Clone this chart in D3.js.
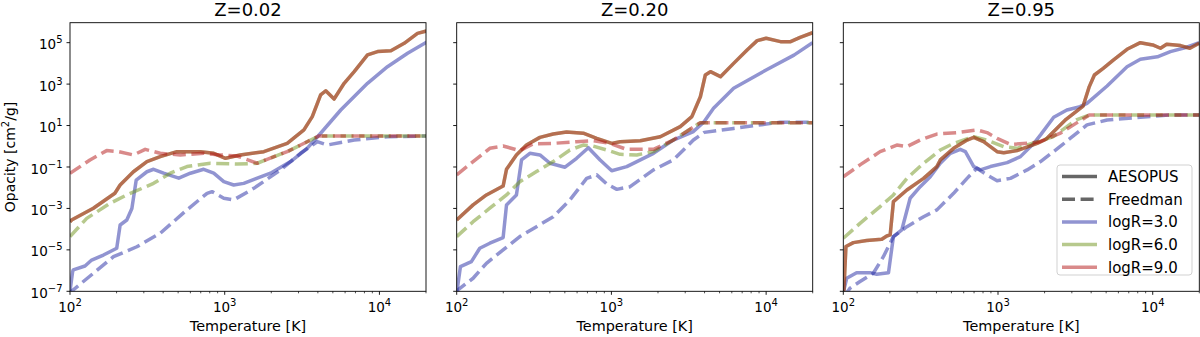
<!DOCTYPE html>
<html>
<head>
<meta charset="utf-8">
<script src="https://cdn.jsdelivr.net/npm/d3@7"></script>
<style>
  body { margin: 0; background: #fff; }
  text { font-family: "DejaVu Sans", sans-serif; fill: #000; }
</style>
</head>
<body>
<div id="chart"></div>
<script>
// values as [log10 T, log10 kappa]
var z002_aes3 = [[2.0,-7.0],[2.017,-6.05],[2.021,-5.97],[2.097,-5.78],[2.14,-5.49],[2.216,-5.25],[2.302,-4.92],[2.324,-3.80],[2.367,-3.56],[2.40,-3.0],[2.428,-1.63],[2.497,-1.23],[2.54,-1.11],[2.605,-1.30],[2.703,-1.54],[2.778,-1.30],[2.864,-1.11],[2.929,-1.30],[2.994,-1.71],[3.058,-1.87],[3.123,-1.79],[3.296,-1.30],[3.426,-0.74],[3.533,-0.10],[3.62,0.63],[3.75,1.75],[3.923,3.04],[4.052,3.84],[4.182,4.49],[4.311,5.05]];
var z002_fre3 = [[2.0,-7.2],[2.01,-7.0],[2.151,-6.13],[2.281,-5.33],[2.432,-4.85],[2.583,-4.20],[2.756,-3.07],[2.886,-2.27],[2.918,-2.19],[2.994,-2.51],[3.058,-2.59],[3.188,-2.03],[3.361,-1.14],[3.49,-0.34],[3.598,0.22],[3.663,0.06],[3.837,0.30],[4.052,0.46],[4.311,0.50]];
var z002_aesHi = [[2.0,-3.65],[2.01,-3.56],[2.151,-2.99],[2.29,-2.27],[2.324,-1.87],[2.41,-1.23],[2.497,-0.74],[2.583,-0.50],[2.691,-0.26],[2.843,-0.26],[2.929,-0.34],[3.005,-0.58],[3.10,-0.42],[3.253,-0.26],[3.404,0.14],[3.512,0.79],[3.566,1.43],[3.62,2.48],[3.653,2.68],[3.707,2.28],[3.772,3.04],[3.837,3.60],[3.923,4.41],[3.988,4.57],[4.074,4.61],[4.16,4.97],[4.246,5.45],[4.311,5.58]];
var z002_fre6 = [[2.0,-4.36],[2.108,-3.48],[2.26,-2.75],[2.367,-2.35],[2.54,-1.79],[2.648,-1.30],[2.756,-0.98],[2.907,-0.82],[3.08,-0.86],[3.21,-0.82],[3.404,-0.26],[3.533,0.22],[3.609,0.50],[4.311,0.50]];
var z002_fre9 = [[2.0,-1.31],[2.129,-0.66],[2.237,-0.21],[2.313,-0.26],[2.41,-0.42],[2.486,-0.15],[2.583,-0.34],[2.713,-0.42],[2.864,-0.34],[2.972,-0.42],[3.08,-0.47],[3.21,-0.82],[3.404,-0.26],[3.533,0.22],[3.609,0.50],[4.311,0.50]];

var z020_aes3 = [[2.0,-7.1],[2.024,-5.81],[2.095,-5.57],[2.149,-4.92],[2.214,-4.68],[2.30,-4.41],[2.322,-2.83],[2.386,-2.35],[2.419,-0.66],[2.473,-0.34],[2.538,-0.42],[2.603,-0.82],[2.70,-1.01],[2.775,-0.58],[2.851,-0.07],[2.927,-0.66],[3.002,-1.18],[3.099,-0.98],[3.272,-0.34],[3.40,0.30],[3.53,0.71],[3.60,1.19],[3.66,1.83],[3.79,2.80],[4.0,3.68],[4.18,4.40],[4.30,5.0]];
var z020_fre3 = [[2.0,-7.1],[2.008,-6.93],[2.106,-6.37],[2.192,-5.65],[2.30,-5.0],[2.408,-4.36],[2.516,-3.88],[2.624,-3.40],[2.732,-2.59],[2.84,-1.55],[2.905,-1.38],[2.97,-1.82],[3.035,-2.08],[3.121,-1.95],[3.272,-1.14],[3.40,-0.66],[3.53,0.30],[3.60,0.67],[3.79,0.86],[4.0,1.07],[4.09,1.16],[4.30,1.16]];
var z020_aesHi = [[2.0,-3.56],[2.106,-2.83],[2.192,-2.35],[2.30,-1.92],[2.322,-1.11],[2.386,-0.42],[2.451,0.06],[2.538,0.43],[2.624,0.59],[2.71,0.69],[2.818,0.63],[2.905,0.38],[3.002,0.14],[3.056,0.22],[3.187,0.27],[3.316,0.46],[3.445,0.95],[3.52,1.43],[3.575,2.39],[3.607,3.44],[3.64,3.60],[3.705,3.36],[3.79,4.00],[3.877,4.65],[3.942,5.10],[4.0,5.21],[4.093,5.05],[4.158,5.05],[4.22,5.26],[4.30,5.48]];
var z020_fre6 = [[2.0,-4.36],[2.106,-3.64],[2.214,-2.99],[2.322,-2.35],[2.408,-1.71],[2.516,-1.22],[2.624,-0.74],[2.732,-0.18],[2.818,0.06],[2.883,0.01],[2.97,-0.18],[3.056,-0.39],[3.164,-0.42],[3.272,-0.26],[3.40,0.30],[3.575,1.14],[4.30,1.14]];
var z020_fre9 = [[2.0,-1.38],[2.106,-0.74],[2.214,-0.10],[2.30,0.01],[2.408,-0.21],[2.494,0.11],[2.624,0.14],[2.775,0.22],[2.883,0.27],[2.99,0.14],[3.099,-0.15],[3.272,-0.15],[3.40,0.30],[3.575,1.14],[4.30,1.14]];

var z095_aes3 = [[2.0,-7.0],[2.004,-6.93],[2.022,-6.37],[2.086,-6.10],[2.173,-6.10],[2.216,-6.18],[2.292,-6.10],[2.324,-4.36],[2.378,-4.04],[2.432,-2.51],[2.497,-1.95],[2.562,-1.47],[2.627,-0.82],[2.692,-0.34],[2.756,-0.15],[2.789,-0.26],[2.843,-0.98],[2.886,-1.14],[2.951,-0.98],[3.059,-0.79],[3.145,-0.50],[3.232,0.14],[3.275,0.55],[3.36,1.40],[3.445,1.75],[3.53,1.91],[3.575,2.07],[3.705,2.91],[3.834,3.84],[3.92,4.20],[4.03,4.32],[4.114,4.57],[4.22,4.78],[4.30,5.0]];
var z095_fre3 = [[2.0,-7.3],[2.043,-6.85],[2.108,-6.53],[2.194,-6.13],[2.259,-5.33],[2.324,-4.36],[2.411,-3.88],[2.519,-3.40],[2.605,-3.07],[2.713,-2.27],[2.80,-1.55],[2.864,-1.06],[2.929,-1.38],[2.994,-1.66],[3.08,-1.55],[3.188,-1.14],[3.275,-0.74],[3.40,-0.02],[3.575,1.03],[3.705,1.27],[3.92,1.40],[4.114,1.51],[4.30,1.51]];
var z095_aesHi = [[2.0,-7.0],[2.004,-6.93],[2.017,-4.84],[2.065,-4.65],[2.151,-4.55],[2.249,-4.49],[2.281,-4.33],[2.303,-4.28],[2.324,-2.67],[2.411,-2.11],[2.519,-1.55],[2.605,-0.98],[2.627,-0.66],[2.713,-0.10],[2.80,0.30],[2.843,0.43],[2.907,0.22],[2.994,-0.26],[3.037,-0.31],[3.123,-0.21],[3.253,0.14],[3.31,0.34],[3.44,1.30],[3.55,1.94],[3.59,2.88],[3.623,3.44],[3.68,3.76],[3.745,4.16],[3.834,4.68],[3.92,5.0],[4.0,4.89],[4.05,4.73],[4.09,4.92],[4.18,4.86],[4.24,4.73],[4.30,4.97]];
var z095_fre6 = [[2.0,-4.44],[2.108,-3.72],[2.238,-2.91],[2.324,-2.35],[2.411,-1.55],[2.519,-0.82],[2.627,-0.18],[2.713,0.14],[2.843,0.46],[2.929,0.30],[3.037,-0.02],[3.123,-0.10],[3.188,0.06],[3.355,0.46],[3.506,1.27],[3.59,1.51],[4.30,1.51]];
var z095_fre9 = [[2.0,-1.47],[2.108,-0.90],[2.238,-0.26],[2.346,0.06],[2.411,-0.02],[2.497,0.30],[2.605,0.59],[2.735,0.66],[2.864,0.79],[2.929,0.66],[2.994,0.38],[3.08,0.09],[3.188,0.14],[3.27,0.22],[3.40,0.62],[3.59,1.51],[4.30,1.51]];

var titles = ["Z=0.02", "Z=0.20", "Z=0.95"];
var xTickExp = [2, 3, 4];
var yTickExp = [-7, -5, -3, -1, 1, 3, 5];
var legendLabels = ["AESOPUS", "Freedman", "logR=3.0", "logR=6.0", "logR=9.0"];

var panels = [
  [z002_aes3, z002_fre3, z002_aesHi, z002_fre6, z002_aesHi, z002_fre9],
  [z020_aes3, z020_fre3, z020_aesHi, z020_fre6, z020_aesHi, z020_fre9],
  [z095_aes3, z095_fre3, z095_aesHi, z095_fre6, z095_aesHi, z095_fre9]
];
var colors = ["#2329a3", "#6f931b", "#b31515"];
var dash = "13,5.6";

var svg = d3.select("#chart").append("svg")
  .attr("width", 1200)
  .attr("height", 337);

var panelLeft = [70, 456.7, 843.3],
    pw = 356,
    pTop = 22.7,
    pBottom = 291.3;

var x = d3.scaleLog().domain([100, 2e4]).range([0, pw]);
var y = d3.scaleLog().domain([1e-7, 9.2e5]).range([pBottom, pTop]);

var line = d3.line()
  .x(function(d) { return x(Math.pow(10, d[0])); })
  .y(function(d) { return y(Math.pow(10, d[1])); });

function powLabel(t, e) {
  t.append("tspan").text("10");
  t.append("tspan").attr("dy", -6).attr("font-size", 10)
    .text(e < 0 ? "\u2212" + (-e) : "" + e);
}

panels.forEach(function(series, p) {
  var g = svg.append("g").attr("transform", "translate(" + panelLeft[p] + ",0)");

  g.append("clipPath").attr("id", "clip" + p)
    .append("rect").attr("x", 0).attr("y", pTop).attr("width", pw).attr("height", pBottom - pTop);

  var plot = g.append("g").attr("clip-path", "url(#clip" + p + ")");
  series.forEach(function(s, i) {
    plot.append("path")
      .datum(s)
      .attr("d", line)
      .attr("fill", "none")
      .attr("stroke", colors[Math.floor(i / 2)])
      .attr("stroke-opacity", 0.5)
      .attr("stroke-width", 3.5)
      .attr("stroke-linejoin", "round")
      .attr("stroke-dasharray", i % 2 ? dash : null);
  });

  // x axis ticks
  var minor = [];
  [100, 1000, 10000].forEach(function(b) {
    for (var k = 2; k <= 9; k++) if (b * k <= 2e4) minor.push(b * k);
  });
  g.selectAll(".xminor").data(minor).enter().append("line")
    .attr("x1", d => x(d)).attr("x2", d => x(d))
    .attr("y1", pBottom).attr("y2", pBottom + 2)
    .attr("stroke", "#000").attr("stroke-width", 0.7);
  xTickExp.forEach(function(e) {
    var px = x(Math.pow(10, e));
    g.append("line").attr("x1", px).attr("x2", px)
      .attr("y1", pBottom).attr("y2", pBottom + 3.5)
      .attr("stroke", "#000").attr("stroke-width", 0.9);
    var t = g.append("text").attr("x", px).attr("y", 311.5)
      .attr("text-anchor", "middle").attr("font-size", 13.5);
    powLabel(t, e);
  });

  // y axis ticks
  yTickExp.forEach(function(e) {
    var py = y(Math.pow(10, e));
    g.append("line").attr("x1", -3.5).attr("x2", 0)
      .attr("y1", py).attr("y2", py)
      .attr("stroke", "#000").attr("stroke-width", 0.9);
    if (p === 0) {
      var t = g.append("text").attr("x", -7.5).attr("y", py + 6.6)
        .attr("text-anchor", "end").attr("font-size", 13.5);
      powLabel(t, e);
    }
  });

  g.append("rect")
    .attr("x", 0).attr("y", pTop).attr("width", pw).attr("height", pBottom - pTop)
    .attr("fill", "none").attr("stroke", "#000").attr("stroke-width", 0.9);

  g.append("text").attr("x", pw / 2).attr("y", 15.5)
    .attr("text-anchor", "middle").attr("font-size", 18).text(titles[p]);

  g.append("text").attr("x", pw / 2).attr("y", 331)
    .attr("text-anchor", "middle").attr("font-size", 14.4).text("Temperature [K]");
});

// y label
var yl = svg.append("text")
  .attr("transform", "translate(14.5," + ((pTop + pBottom) / 2) + ") rotate(-90)")
  .attr("text-anchor", "middle").attr("font-size", 14);
yl.append("tspan").text("Opacity [cm");
yl.append("tspan").attr("dy", -6).attr("font-size", 10).text("2");
yl.append("tspan").attr("dy", 6).text("/g]");

// legend
var lg = svg.append("g").attr("transform", "translate(1057,165)");
lg.append("rect").attr("width", 135).attr("height", 110).attr("rx", 3)
  .attr("fill", "#fff").attr("fill-opacity", 0.8)
  .attr("stroke", "#ccc").attr("stroke-width", 0.9);
var legendStroke = ["#000", "#000"].concat(colors);
legendLabels.forEach(function(lab, i) {
  var ly = 11.5 + i * 22.7;
  lg.append("line").attr("x1", 5).attr("x2", 40).attr("y1", ly).attr("y2", ly)
    .attr("stroke", legendStroke[i])
    .attr("stroke-opacity", i < 2 ? 0.6 : 0.5)
    .attr("stroke-width", 3.5)
    .attr("stroke-dasharray", i === 1 ? dash : null);
  lg.append("text").attr("x", 51).attr("y", ly + 5.3)
    .attr("font-size", 15).text(lab);
});
</script>
</body>
</html>
